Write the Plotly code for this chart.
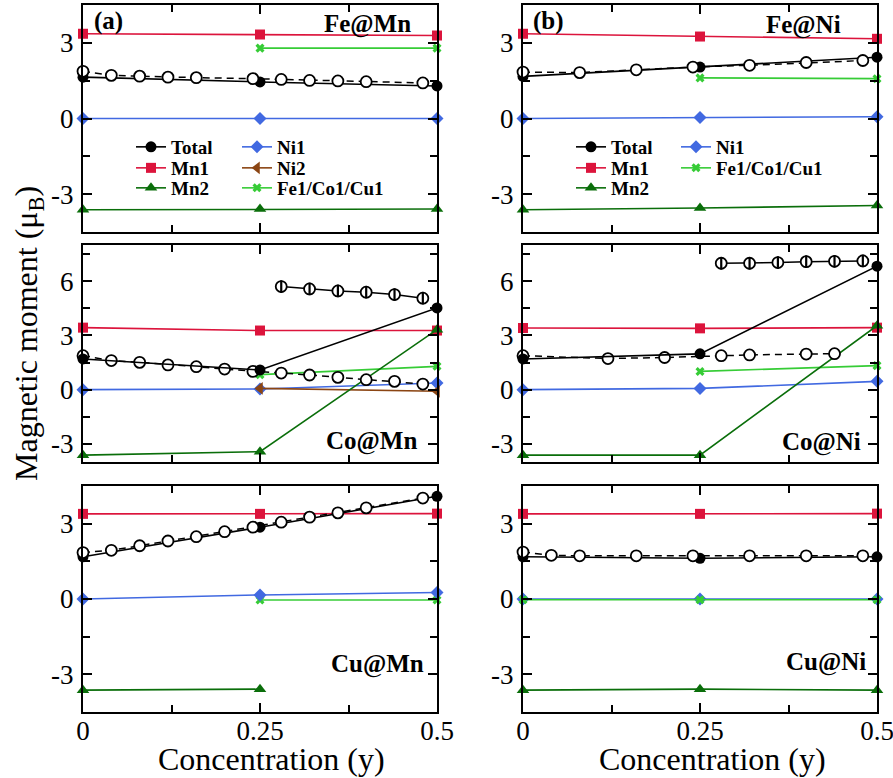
import plotly.graph_objects as go

# ---------------- data ----------------
CONC = [0, 0.25, 0.5]
CONC_SUB = [0.25, 0.5]
CONC_CU_MN2 = [0, 0.25]

# Fe@Mn
fe_mn_total = [1.64, 1.45, 1.29]
fe_mn_mn1 = [3.36, 3.33, 3.29]
fe_mn_mn2 = [-3.62, -3.59, -3.59]
fe_mn_ni1 = [0.0, 0.0, 0.0]
fe_mn_x1 = [2.79, 2.79]
fe_mn_cpa_x = [0, 0.04, 0.08, 0.12, 0.16, 0.24, 0.28, 0.32, 0.36, 0.40, 0.48]
fe_mn_cpa = [1.87, 1.71, 1.68, 1.64, 1.62, 1.58, 1.55, 1.51, 1.49, 1.46, 1.41]

# Fe@Ni
fe_ni_total = [1.67, 2.04, 2.43]
fe_ni_mn1 = [3.36, 3.25, 3.16]
fe_ni_mn2 = [-3.62, -3.55, -3.45]
fe_ni_ni1 = [0.0, 0.04, 0.07]
fe_ni_x1 = [1.61, 1.58]
fe_ni_cpa_x = [0, 0.08, 0.16, 0.24, 0.32, 0.40, 0.48]
fe_ni_cpa = [1.84, 1.82, 1.93, 2.04, 2.11, 2.22, 2.30]

# Co@Mn
co_mn_total = [1.70, 1.09, 4.52]
co_mn_mn1 = [3.43, 3.27, 3.27]
co_mn_mn2 = [-3.62, -3.43, 3.32]
co_mn_ni1 = [0.0, 0.04, 0.37]
co_mn_ni2 = [0.07, -0.09]
co_mn_x1 = [0.83, 1.29]
co_mn_cpa_x = [0, 0.04, 0.08, 0.12, 0.16, 0.20, 0.24, 0.28, 0.32, 0.36, 0.40, 0.44, 0.48]
co_mn_cpa = [1.88, 1.61, 1.51, 1.37, 1.27, 1.14, 1.01, 0.92, 0.81, 0.68, 0.55, 0.46, 0.31]
co_mn_hs_x = [0.28, 0.32, 0.36, 0.40, 0.44, 0.48]
co_mn_hs = [5.70, 5.57, 5.46, 5.39, 5.26, 5.06]

# Co@Ni
co_ni_total = [1.70, 1.98, 6.83]
co_ni_mn1 = [3.41, 3.39, 3.43]
co_ni_mn2 = [-3.62, -3.62, 3.54]
co_ni_ni1 = [0.0, 0.07, 0.46]
co_ni_x1 = [1.01, 1.33]
co_ni_cpa_x = [0, 0.12, 0.20, 0.28, 0.32, 0.40, 0.44]
co_ni_cpa = [1.88, 1.72, 1.78, 1.88, 1.92, 1.97, 1.99]
co_ni_hs_x = [0.28, 0.32, 0.36, 0.40, 0.44, 0.48]
co_ni_hs = [6.99, 6.99, 7.03, 7.08, 7.10, 7.12]

# Cu@Mn
cu_mn_total = [1.68, 2.86, 4.09]
cu_mn_mn1 = [3.39, 3.39, 3.40]
cu_mn_mn2 = [-3.63, -3.59]
cu_mn_ni1 = [0.0, 0.16, 0.26]
cu_mn_x1 = [-0.04, -0.04]
cu_mn_cpa_x = [0, 0.04, 0.08, 0.12, 0.16, 0.20, 0.24, 0.28, 0.32, 0.36, 0.40, 0.48]
cu_mn_cpa = [1.85, 1.94, 2.12, 2.31, 2.48, 2.68, 2.86, 3.06, 3.26, 3.43, 3.63, 4.02]

# Cu@Ni
cu_ni_total = [1.68, 1.62, 1.68]
cu_ni_mn1 = [3.39, 3.39, 3.40]
cu_ni_mn2 = [-3.63, -3.59, -3.63]
cu_ni_ni1 = [0.0, 0.0, 0.0]
cu_ni_x1 = [-0.03, -0.03, -0.03]
cu_ni_cpa_x = [0, 0.04, 0.08, 0.16, 0.24, 0.32, 0.40, 0.48]
cu_ni_cpa = [1.87, 1.74, 1.72, 1.72, 1.72, 1.72, 1.72, 1.72]

X_TICKS = [0, 0.25, 0.5]
X_TICKTEXT = ["0", "0.25", "0.5"]
Y_TICKS_SMALL = [-3, 0, 3]
Y_TICKTEXT_SMALL = ["-3", "0", "3"]
Y_TICKS_MID = [-3, 0, 3, 6]
Y_TICKTEXT_MID = ["-3", "0", "3", "6"]

PANEL_LABELS = ["Fe@Mn", "Fe@Ni", "Co@Mn", "Co@Ni", "Cu@Mn", "Cu@Ni"]
SERIES_NAMES = ["Total", "Mn1", "Mn2", "Ni1", "Ni2", "Fe1/Co1/Cu1"]

# ---------------- styling ----------------
FONT = "Liberation Serif"
C_TOTAL = "black"
C_MN1 = "#DC143C"
C_MN2 = "#0A6E0A"
C_NI1 = "#4169E1"
C_NI2 = "#8B4513"
C_X1 = "#36CC36"

W, H = 893, 778

# legend cells (left edge px, row centre px); one small legend per entry
LEGEND_CELLS = {
    "a_total": (131, 147), "a_mn1": (131, 168), "a_mn2": (131, 188),
    "a_ni1": (237, 147), "a_ni2": (237, 168), "a_x1": (237, 188),
    "b_total": (571, 147), "b_mn1": (571, 168), "b_mn2": (571, 188),
    "b_ni1": (676, 147), "b_x1": (676, 168),
}
LEGEND_KEYS = {}
for n, cell in enumerate(LEGEND_CELLS):
    LEGEND_KEYS[cell] = "legend" if n == 0 else f"legend{n + 1}"

fig = go.Figure()


def axis_ids(i):
    return ("x" if i == 1 else f"x{i}"), ("y" if i == 1 else f"y{i}")


def series(i, name, x, y, color, symbol, size, cell=None):
    xa, ya = axis_ids(i)
    fig.add_trace(go.Scatter(
        x=x, y=y, mode="lines+markers", name=name,
        line=dict(color=color, width=1.6),
        marker=dict(symbol=symbol, size=size, color=color),
        xaxis=xa, yaxis=ya, cliponaxis=False,
        showlegend=cell is not None,
        legend=LEGEND_KEYS[cell] if cell else "legend",
    ))


def cpa(i, x, y):
    xa, ya = axis_ids(i)
    fig.add_trace(go.Scatter(
        x=x, y=y, mode="lines+markers", showlegend=False,
        line=dict(color="black", width=1.5, dash="7px,5px"),
        marker=dict(symbol="circle", size=11, color="white",
                    line=dict(color="black", width=1.8)),
        xaxis=xa, yaxis=ya, cliponaxis=False,
    ))


def high_spin(i, x, y):
    xa, ya = axis_ids(i)
    fig.add_trace(go.Scatter(
        x=x, y=y, mode="lines+markers", showlegend=False,
        line=dict(color="black", width=1.5),
        marker=dict(symbol="circle", size=11, color="white",
                    line=dict(color="black", width=1.8)),
        xaxis=xa, yaxis=ya, cliponaxis=False,
    ))
    fig.add_trace(go.Scatter(
        x=x, y=y, mode="markers", showlegend=False,
        marker=dict(symbol="line-ns", size=9,
                    line=dict(color="black", width=2.2)),
        xaxis=xa, yaxis=ya, cliponaxis=False,
    ))


# Panel 1: Fe@Mn
series(1, SERIES_NAMES[0], CONC, fe_mn_total, C_TOTAL, "circle", 11, "a_total")
series(1, SERIES_NAMES[1], CONC, fe_mn_mn1, C_MN1, "square", 10, "a_mn1")
series(1, SERIES_NAMES[2], CONC, fe_mn_mn2, C_MN2, "triangle-up", 11, "a_mn2")
series(1, SERIES_NAMES[3], CONC, fe_mn_ni1, C_NI1, "diamond", 10, "a_ni1")
series(1, SERIES_NAMES[5], CONC_SUB, fe_mn_x1, C_X1, "x", 8, "a_x1")
cpa(1, fe_mn_cpa_x, fe_mn_cpa)

# Panel 2: Fe@Ni
series(2, SERIES_NAMES[0], CONC, fe_ni_total, C_TOTAL, "circle", 11, "b_total")
series(2, SERIES_NAMES[1], CONC, fe_ni_mn1, C_MN1, "square", 10, "b_mn1")
series(2, SERIES_NAMES[2], CONC, fe_ni_mn2, C_MN2, "triangle-up", 11, "b_mn2")
series(2, SERIES_NAMES[3], CONC, fe_ni_ni1, C_NI1, "diamond", 10, "b_ni1")
series(2, SERIES_NAMES[5], CONC_SUB, fe_ni_x1, C_X1, "x", 8, "b_x1")
cpa(2, fe_ni_cpa_x, fe_ni_cpa)

# Panel 3: Co@Mn
series(3, SERIES_NAMES[1], CONC, co_mn_mn1, C_MN1, "square", 10)
series(3, SERIES_NAMES[3], CONC, co_mn_ni1, C_NI1, "diamond", 10)
series(3, SERIES_NAMES[4], CONC_SUB, co_mn_ni2, C_NI2, "triangle-left", 11, "a_ni2")
series(3, SERIES_NAMES[5], CONC_SUB, co_mn_x1, C_X1, "x", 8)
series(3, SERIES_NAMES[2], CONC, co_mn_mn2, C_MN2, "triangle-up", 11)
cpa(3, co_mn_cpa_x, co_mn_cpa)
series(3, SERIES_NAMES[0], CONC, co_mn_total, C_TOTAL, "circle", 11)
high_spin(3, co_mn_hs_x, co_mn_hs)

# Panel 4: Co@Ni
series(4, SERIES_NAMES[1], CONC, co_ni_mn1, C_MN1, "square", 10)
series(4, SERIES_NAMES[3], CONC, co_ni_ni1, C_NI1, "diamond", 10)
series(4, SERIES_NAMES[5], CONC_SUB, co_ni_x1, C_X1, "x", 8)
series(4, SERIES_NAMES[2], CONC, co_ni_mn2, C_MN2, "triangle-up", 11)
cpa(4, co_ni_cpa_x, co_ni_cpa)
series(4, SERIES_NAMES[0], CONC, co_ni_total, C_TOTAL, "circle", 11)
high_spin(4, co_ni_hs_x, co_ni_hs)

# Panel 5: Cu@Mn
series(5, SERIES_NAMES[1], CONC, cu_mn_mn1, C_MN1, "square", 10)
series(5, SERIES_NAMES[2], CONC_CU_MN2, cu_mn_mn2, C_MN2, "triangle-up", 11)
series(5, SERIES_NAMES[5], CONC_SUB, cu_mn_x1, C_X1, "x", 8)
series(5, SERIES_NAMES[3], CONC, cu_mn_ni1, C_NI1, "diamond", 10)
series(5, SERIES_NAMES[0], CONC, cu_mn_total, C_TOTAL, "circle", 11)
cpa(5, cu_mn_cpa_x, cu_mn_cpa)

# Panel 6: Cu@Ni
series(6, SERIES_NAMES[1], CONC, cu_ni_mn1, C_MN1, "square", 10)
series(6, SERIES_NAMES[2], CONC, cu_ni_mn2, C_MN2, "triangle-up", 11)
series(6, SERIES_NAMES[3], CONC, cu_ni_ni1, C_NI1, "diamond", 10)
series(6, SERIES_NAMES[5], CONC, cu_ni_x1, C_X1, "x", 8)
series(6, SERIES_NAMES[0], CONC, cu_ni_total, C_TOTAL, "circle", 11)
cpa(6, cu_ni_cpa_x, cu_ni_cpa)

# ---------------- layout ----------------
COL_X = [(83, 437), (523, 877)]
ROW_Y = [(5, 232), (245, 462), (486, 712)]


def px_dom(a, b, total, flip=False):
    if flip:
        return [1 - b / total, 1 - a / total]
    return [a / total, b / total]


layout = dict(
    width=W, height=H,
    margin=dict(l=0, r=0, t=0, b=0, autoexpand=False),
    paper_bgcolor="white", plot_bgcolor="white",
    font=dict(family=FONT, color="black"),
    showlegend=True,
)

for i in range(1, 7):
    row = (i - 1) // 2
    col = (i - 1) % 2
    xa = "xaxis" if i == 1 else f"xaxis{i}"
    ya = "yaxis" if i == 1 else f"yaxis{i}"
    xa_id, ya_id = axis_ids(i)
    layout[xa] = dict(
        domain=px_dom(*COL_X[col], W), anchor=ya_id, automargin=False,
        range=[0, 0.5], showgrid=False, zeroline=False,
        showline=True, linewidth=2, linecolor="black", mirror="ticks",
        ticks="inside", ticklen=9, tickwidth=1.5, tickcolor="black",
        tickvals=X_TICKS, ticktext=X_TICKTEXT,
        showticklabels=(row == 2), ticklabeloverflow="allow",
        ticklabelstandoff=-6,
        tickfont=dict(family=FONT, size=27, color="black"),
        minor=dict(dtick=0.125, tick0=0, ticks="inside", ticklen=7,
                   tickwidth=1.5, tickcolor="black"),
    )
    if row == 1:
        yr, yv, yt = [-4, 8], Y_TICKS_MID, Y_TICKTEXT_MID
    else:
        yr, yv, yt = [-4.5, 4.5], Y_TICKS_SMALL, Y_TICKTEXT_SMALL
    layout[ya] = dict(
        domain=px_dom(*ROW_Y[row], H, flip=True), anchor=xa_id, automargin=False,
        range=yr, showgrid=False, zeroline=False,
        showline=True, linewidth=2, linecolor="black", mirror="ticks",
        ticks="inside", ticklen=9, tickwidth=1.5, tickcolor="black",
        tickvals=yv, ticktext=yt,
        tickfont=dict(family=FONT, size=27, color="black"),
        ticklabelstandoff=2,
        minor=dict(dtick=1.5, tick0=0, ticks="inside", ticklen=7,
                   tickwidth=1.5, tickcolor="black"),
    )

LEG_FONT = dict(family=FONT, size=19, color="black", weight="bold")
for cell, (lx, ly) in LEGEND_CELLS.items():
    layout[LEGEND_KEYS[cell]] = dict(
        orientation="v", x=lx / W, y=1 - ly / H,
        xanchor="left", yanchor="middle",
        font=LEG_FONT, bgcolor="rgba(0,0,0,0)", borderwidth=0,
        itemwidth=30, tracegroupgap=0,
    )

ann = []
label_font = dict(family=FONT, size=25, color="black", weight="bold")
ann.append(dict(text="(a)", x=92 / W, y=1 - 21 / H, xanchor="left", yanchor="middle",
                xref="paper", yref="paper", showarrow=False, font=label_font))
ann.append(dict(text="(b)", x=531 / W, y=1 - 21 / H, xanchor="left", yanchor="middle",
                xref="paper", yref="paper", showarrow=False, font=label_font))
LABEL_POS = [(413, 24), (843, 25), (419, 441), (863, 442), (426, 664), (868, 662)]
for name, (lx, ly) in zip(PANEL_LABELS, LABEL_POS):
    ann.append(dict(text=name, x=lx / W, y=1 - ly / H, xanchor="right", yanchor="middle",
                    xref="paper", yref="paper", showarrow=False, font=label_font))

axis_font = dict(family=FONT, size=32, color="black")
for cx in (271, 712):
    ann.append(dict(text="Concentration (y)", x=cx / W, y=1 - 759 / H,
                    xanchor="center", yanchor="middle", xref="paper", yref="paper",
                    showarrow=False, font=axis_font))
ann.append(dict(text="Magnetic moment (μ<sub>B</sub>)", x=28 / W, y=1 - 334 / H,
                xanchor="center", yanchor="middle", xref="paper", yref="paper",
                textangle=-90, showarrow=False, font=axis_font))
layout["annotations"] = ann

fig.update_layout(**layout)
fig.write_html("out.html")
